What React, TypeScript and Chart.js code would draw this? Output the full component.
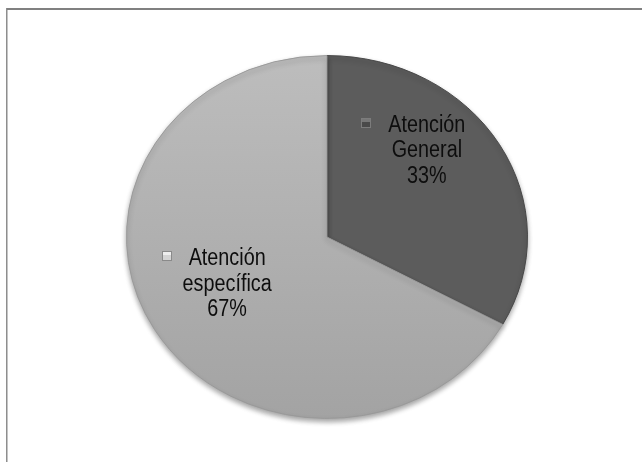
import React, { useEffect, useRef } from "react";
import { Chart, registerables } from "chart.js";

Chart.register(...registerables);

const categories = ["Atención General", "Atención específica"];
const values = [33, 67];
const sliceColors = ["#5c5c5c", "#b2b2b2"];
const keyFills = ["#4a4a4a", "#d4d4d4"];
const keyBorders = ["#7c7c7c", "#8a8a8a"];

const Y_SCALE = 0.905;
const TEXT_SX = 0.86;

const framePlugin = {
  id: "frame",
  beforeDraw(chart: any) {
    const ctx = chart.ctx;
    ctx.save();
    ctx.fillStyle = "#ffffff";
    ctx.fillRect(0, 0, chart.width, chart.height);
    ctx.fillStyle = "#808080";
    ctx.fillRect(6, 8, chart.width - 6, 2);
    ctx.fillStyle = "#8e8e8e";
    ctx.fillRect(6, 8, 1, chart.height - 8);
    ctx.fillStyle = "#c4c4c4";
    ctx.fillRect(7, 10, 1, chart.height - 10);
    ctx.restore();
  },
};

const squashPlugin = {
  id: "squash",
  beforeDatasetsDraw(chart: any) {
    const meta = chart.getDatasetMeta(0);
    const arc = meta.data[0];
    if (!arc) return;
    const cx = arc.x;
    const cy = arc.y;
    const ctx = chart.ctx;
    ctx.save();
    ctx.translate(cx, cy);
    ctx.scale(1, Y_SCALE);
    ctx.translate(-cx, -cy);
    ctx.shadowColor = "rgba(0,0,0,0.35)";
    ctx.shadowBlur = 5;
    ctx.shadowOffsetY = 3;
  },
  afterDatasetsDraw(chart: any) {
    chart.ctx.restore();
  },
};

const labelPlugin = {
  id: "sliceLabels",
  afterDraw(chart: any) {
    const meta = chart.getDatasetMeta(0);
    const ctx = chart.ctx;
    const total = values.reduce((a, b) => a + b, 0);
    const arc0 = meta.data[0];
    if (!arc0) return;
    const cx = arc0.x;
    const cy = arc0.y;
    const r = arc0.outerRadius;
    const anchors = [
      { dx: 0.498, dy: -105 / 181 },
      { dx: -0.498, dy: 28 / 181 },
    ];
    const lineH = 25.5;
    ctx.save();
    ctx.font = "23px 'Liberation Sans', Arial, sans-serif";
    ctx.textAlign = "center";
    ctx.textBaseline = "alphabetic";
    categories.forEach((cat, i) => {
      const words = cat.split(" ");
      const pct = Math.round((values[i] / total) * 100) + "%";
      const lines = [words[0], words.slice(1).join(" "), pct];
      const x = cx + anchors[i].dx * r;
      const y0 = cy + anchors[i].dy * r * Y_SCALE;
      lines.forEach((ln, j) => {
        const y = y0 + j * lineH;
        ctx.save();
        ctx.translate(x, y);
        ctx.scale(TEXT_SX, 1);
        ctx.fillStyle = "#0d0d0d";
        ctx.fillText(ln, 0, 0);
        ctx.restore();
      });
      const w0 = ctx.measureText(lines[0]).width * TEXT_SX;
      const kx = Math.round(x - w0 / 2 - 27);
      const ky = Math.round(y0 - 14);
      ctx.fillStyle = keyBorders[i];
      ctx.fillRect(kx, ky, 10, 10);
      ctx.fillStyle = keyFills[i];
      ctx.fillRect(kx + 1, ky + 1, 8, 8);
      ctx.fillStyle = i === 0 ? "rgba(255,255,255,0.25)" : "rgba(255,255,255,0.6)";
      ctx.fillRect(kx + 1, ky + 1, 8, 3);
    });
    ctx.restore();
  },
};

export default function App() {
  const ref = useRef<HTMLCanvasElement | null>(null);
  useEffect(() => {
    if (!ref.current) return;
    const chart = new Chart(ref.current, {
      type: "pie",
      data: {
        labels: categories,
        datasets: [
          {
            data: values,
            backgroundColor: (c: any) => {
              const chart = c.chart;
              const area = chart.chartArea;
              if (c.dataIndex === 0 || !area) return sliceColors[c.dataIndex];
              const g = chart.ctx.createLinearGradient(0, area.top, 0, area.bottom);
              g.addColorStop(0, "#bdbdbd");
              g.addColorStop(0.5, "#b0b0b0");
              g.addColorStop(1, "#a3a3a3");
              return g;
            },
            borderColor: ["#444444", "#999999"],
            borderWidth: 1,
          },
        ],
      },
      options: {
        animation: false,
        responsive: false,
        events: [],
        layout: { padding: { left: 126, right: 114, top: 36, bottom: 24 } },
        plugins: {
          legend: { display: false },
          tooltip: { enabled: false },
          title: { display: false },
        },
      },
      plugins: [framePlugin, squashPlugin, labelPlugin],
    });
    return () => chart.destroy();
  }, []);
  return (
    <div style={{ position: "absolute", left: 0, top: 0, width: 642, height: 462 }}>
      <canvas ref={ref} width={642} height={462} style={{ width: 642, height: 462, display: "block" }} />
    </div>
  );
}
